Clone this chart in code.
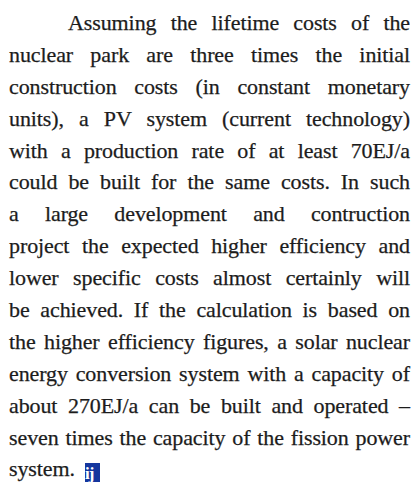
<!DOCTYPE html>
<html>
<head>
<meta charset="utf-8">
<script src="https://cdn.jsdelivr.net/npm/chart.js@4.4.0/dist/chart.umd.min.js"></script>
<style>
  html, body { margin: 0; padding: 0; background: #fff; }
  body { width: 414px; height: 482px; overflow: hidden; }
  #text {
    position: absolute;
    left: 9px;
    top: 7px;
    width: 401px;
    font-family: "Liberation Serif", serif;
    font-size: 22px;
    letter-spacing: -0.1px;
    color: #1c1c1c;
    -webkit-text-stroke: 0.25px #1c1c1c;
  }
  .line {
    height: 31.9px;
    line-height: 31.9px;
    white-space: nowrap;
    text-align: justify;
    text-align-last: justify;
  }
  .line.first { padding-left: 59px; }
  .line.last { text-align-last: left; height: 28px; }
  .ij {
    display: inline-block;
    width: 15px;
    height: 21px;
    margin-left: 10px;
    background: #14369e;
    color: #fff;
    -webkit-text-stroke: 0;
    font-size: 17px;
    font-weight: bold;
    line-height: 21px;
    text-align: center;
    vertical-align: -3px;
    letter-spacing: -1px;
  }
</style>
</head>
<body>
<div id="text"></div>
<script>
// text lines as they are broken in the picture
const lines = [
  "Assuming the lifetime costs of the",
  "nuclear park are three times the initial",
  "construction costs (in constant monetary",
  "units), a PV system (current technology)",
  "with a production rate of at least 70EJ/a",
  "could be built for the same costs. In such",
  "a large development and contruction",
  "project the expected higher efficiency and",
  "lower specific costs almost certainly will",
  "be achieved. If the calculation is based on",
  "the higher efficiency figures, a solar nuclear",
  "energy conversion system with a capacity of",
  "about 270EJ/a can be built and operated –",
  "seven times the capacity of the fission power",
  "system."
];

let box = document.getElementById('text');
for (let i = 0; i < lines.length; i++) {
  let div = document.createElement('div');
  div.className = 'line';
  if (i === 0) div.className += ' first';
  if (i === lines.length - 1) div.className += ' last';
  div.textContent = lines[i];
  if (i === lines.length - 1) {
    let icon = document.createElement('span');
    icon.className = 'ij';
    icon.textContent = 'ij';
    div.appendChild(icon);
  }
  box.appendChild(div);
}
</script>
</body>
</html>
